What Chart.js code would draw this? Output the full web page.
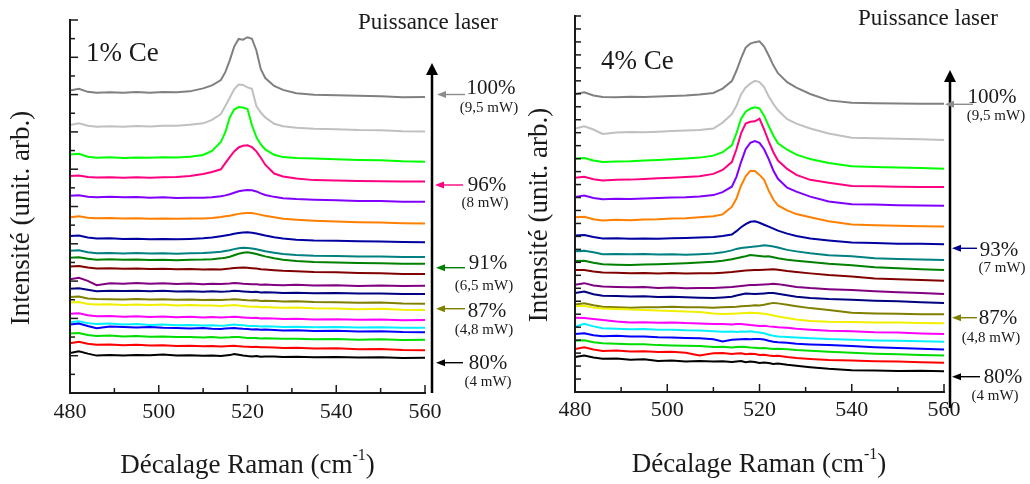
<!DOCTYPE html>
<html><head><meta charset="utf-8">
<script src="https://cdn.jsdelivr.net/npm/chart.js@4/dist/chart.umd.min.js"></script>
<style>
html,body{margin:0;padding:0;background:#fff;width:1030px;height:484px;overflow:hidden}
canvas{position:absolute;top:0}
#c1{left:0}#c2{left:515px}
</style></head><body>
<canvas id="c1" width="535" height="484"></canvas>
<canvas id="c2" width="515" height="484"></canvas>
<script>
// Raman shift grid (cm-1)
const ramanShift = [480,482,484,486,489,492,495,498,501,504,507,510,512,514,515,516,517,518,519,520,521,522,523,524,526,528,531,535,540,545,550,555,560];
const xTickValues = [480,500,520,540,560];
const seriesColors = ['#000000','#ff0000','#00dd00','#0000ff','#00f0ff','#ff00ff','#f0f000','#808000','#000080','#800080','#800000','#008000','#008080','#0000a0','#ff8000','#8000ff','#ff0080','#00ff00','#c0c0c0','#808080'];

// 1% Ce spectra (arbitrary units), bottom (80%) to top (100%)
const ce1_s01 = [40.5,42.5,40,38,38.5,38,38.7,38.3,39,38,38.3,37.8,38,37.5,38.2,38.5,39.5,38.8,38,37.5,37.2,37.5,36.8,37.2,37,36.5,36.8,36.2,36.5,36,36.3,35.5,35.7];
const ce1_s02 = [50.5,52,50,49,49.3,48.5,49,48.2,48.5,47.8,48,47.5,47.8,47.2,47.5,47.8,48,47.6,47.2,47,46.8,47,46.5,46.6,46.2,45.8,46,45.2,45.5,44.5,44.8,43.8,43.5];
const ce1_s03 = [60.5,61,59,58,58.3,57.5,57.8,57.2,57.5,56.8,57,56.5,56.8,56.2,56.5,56.7,57,56.8,56.4,56,55.8,56,55.5,55.6,55.3,55,55.2,54.6,54.8,54.2,54.5,53.8,54];
const ce1_s04 = [69.5,70.5,68,65.8,67.5,67,66.5,67,66.2,66,65.5,66,65.4,65,65.5,65.8,66,65.6,65.2,65,64.5,64.8,64.2,64.5,64,63.5,63.8,63,63.2,62.5,62.8,62,61.8];
const ce1_s05 = [72,73,71,70,70.5,69.5,70,69.2,69.5,68.8,69,68.5,68.8,68.4,68.6,69,69.5,69.2,68.8,68.3,68,68.2,67.6,67.8,67.5,67,67.3,66.8,67,66.5,66.8,66.2,66.3];
const ce1_s06 = [80.5,81,79,78,78.3,77.5,78,77.3,77.8,77,77.5,76.8,77.2,76.8,77,77.2,77.5,77.2,76.8,76.5,76.2,76.4,75.8,76,75.6,75.2,75.5,74.8,75,74.5,74.8,74,74.2];
const ce1_s07 = [92,92.5,90.5,90,90.3,89.5,90,89.5,89.8,89,89.3,88.8,89,88.5,88.8,89,89.3,89,88.5,88,87.6,87.8,87.2,87.4,87,86.5,86.8,86,85.8,85.2,85.5,84.5,84.3];
const ce1_s08 = [97.5,98,96,95.5,95.3,95,95.5,95,95.2,94.8,95,94.6,94.8,94.5,94.8,95,95.3,95,94.6,94.2,94,94.2,93.6,93.8,93.4,93,93.2,92.5,92.3,91.8,92,91,90.8];
const ce1_s09 = [106,106.5,105,103.5,104,103.6,104,103.5,103.8,103.2,103.5,103,103.3,103,103.2,103.5,104,103.6,103.2,102.8,102.5,102.8,102.2,102.4,102,101.6,101.9,101.3,101.5,101,101.2,100.6,100.7];
const ce1_s10 = [115.5,117,114,109.5,111.5,111,111.8,111,111.5,110.8,111.2,110.6,111,110.7,111,111.3,111.8,111.5,111,110.7,110.4,110.6,110,110.2,109.8,109.5,110,109.3,109.5,108.8,109.2,108.6,109];
const ce1_s11 = [128.5,129,127.5,126.5,126.8,126.3,126.6,126,126.3,125.8,126,125.6,125.8,125.6,126,126.4,127,127.3,127.5,127.2,126.8,126.4,125.8,125.4,124.8,124.2,123.8,123,122.6,122,121.6,121,120.8];
const ce1_s12 = [137.5,138,136.5,135.5,135.8,135.3,135.6,135.2,135.4,135,135.5,135.6,136,136.8,137.5,138.5,140,141.5,142.5,143,142.3,141.2,140,138.8,137,135.5,134.2,133.2,132.6,132,131.8,131.3,131.3];
const ce1_s13 = [144.5,145,143,142,142.3,141.8,142.2,141.8,142,141.6,142,142.3,142.8,143.5,144.2,145,146.2,147,147.5,147.3,146.8,146,145,144,142.5,141.2,140.3,139.5,139.2,138.8,138.6,138.3,138.3];
const ce1_s14 = [159.5,160,158,157,157.2,156.5,156.8,156.3,156.5,156.2,156.6,157.2,158,159.3,160,160.8,161.8,162.5,163,163.3,162.8,162,161,160,158.3,157,155.8,155,154.6,154.2,154,153.5,153.3];
const ce1_s15 = [178.5,179.5,178,177.5,177.8,177.3,177.6,177,177.3,177,177.3,177.2,177.8,178.8,179.5,180.2,181.2,182,182.6,183,182.8,182,181,180,178.5,177,176,175,174.2,173.5,173.2,172.6,172.3];
const ce1_s16 = [200.5,201,199.5,198.8,199.3,198.8,199.2,198.5,198.8,198.2,198.5,198.3,199,200,200.8,202,203.5,205,205.8,206.3,206,204.8,202.8,201.2,199.3,198,197,196.3,195.8,195.2,195,194.4,194.2];
const ce1_s17 = [220.5,221,219.5,219,219.3,218.8,219.2,218.8,219.3,219.5,220.5,222.5,224.5,227.3,233.5,239.7,245.5,249.5,251.2,251.7,249.8,245.5,239,232,223,220,218,216.3,215.8,215.5,215.2,215,215];
const ce1_s18 = [242.3,243,240,239,239.5,238.8,239.2,239,239.5,239.2,240,241.8,246,255,265,280,288,290.5,290,288.5,272,260,252.5,247.5,242,239.7,238.8,238.3,237.5,236.8,236.5,235.5,235];
const ce1_s19 = [272.3,274,271.5,270.5,271,270.5,271.2,270.8,271.5,271.5,272.5,274,277.5,283.5,291.5,300,308.5,313.5,313,310.5,309,291.5,285,280,273.5,271,269.5,268.5,268,267.2,267,266,265.7];
const ce1_s20 = [307.3,309,306,305,305.5,305,305.8,305.2,305.8,305.5,306.5,309.5,312.5,318,326,338,352,359.8,359,361.5,360,348,329,320,312,308,304.5,303,302.5,302,301.5,300.5,300.7];

// 4% Ce spectra (arbitrary units), bottom (80%) to top (100%)
const ce4_s01 = [35.5,37,35,33.8,34,32.8,33.2,31.5,32,31,31.5,30.8,31.2,30.5,31,31.5,30.2,31,30.5,29.5,30,29.3,28.5,28.8,27.5,26.5,25.2,23.5,22,21.8,21.2,21.5,21];
const ce4_s02 = [43.5,45.3,43,41.5,42,41,41.3,40.5,40.8,39.8,37,39.3,39.5,38.5,39,39.3,38.2,38.8,38.5,37.5,37.8,37,36.5,36.8,35.5,34.5,33.5,32.5,31.8,31.2,30.8,30.2,29.7];
const ce4_s03 = [52,52.5,50.5,49.5,49,48.3,48.5,47.5,47.2,46.8,46.5,45.5,45.8,45.2,45.5,45.8,45.5,45,44.8,44.3,44.5,44,43.5,43.8,43.2,42.5,41.8,40.8,39.8,38.8,38.3,37.5,37];
const ce4_s04 = [58.7,59.5,57.5,56.5,57,56.2,56.3,55.5,55.3,54.8,54.5,53.5,51.2,53,53.2,53.5,53.8,53.5,53.8,53.7,53.2,52,51,50.3,49.8,49,48.2,47.5,46.5,45.3,44.5,43.8,43];
const ce4_s05 = [66,69,66.5,64.5,64,63.5,63.8,63,63.2,62.5,62.2,61.5,61,61.2,60.8,61.3,61,61.5,60.8,60.3,59.5,58,57,56.3,55.8,55.2,54.5,53.6,53,52.3,52,51.3,51];
const ce4_s06 = [75.3,75,74,73,71.5,70.5,70.8,70.2,70.5,69.8,69.5,68.8,69,68.5,68.8,69,68.5,67.8,67.5,67,67.2,66.5,66,65.5,65,64,63.2,62,61.5,60.5,60.2,59.3,58.7];
const ce4_s07 = [87,87.5,85.5,84.5,84.2,83.5,83.2,82.5,82.2,81.5,81,79.5,79,79.3,79.5,79.8,80,80.2,80,79.7,79.2,78.5,77.5,76.5,75,73.5,72,71.3,71,70.5,70.3,70,69.7];
const ce4_s08 = [88.7,90,88,86.5,86,85.3,85.8,86,86.5,86,85.8,85.3,85.8,86.2,86.5,87,87.2,87.5,87.8,87.7,88.5,89.5,90.3,89.8,88.5,87,85,83,80.3,79.5,79.2,78.8,78.7];
const ce4_s09 = [100.3,101.7,99,97.5,97.2,96.8,97,96.3,96.5,96,95.5,95.3,95.8,96.5,97.8,98.8,99.7,99.5,99.3,99.5,99.8,100.2,100.3,99.5,98,96.5,95.3,94.2,93.5,92.5,92,91,90.3];
const ce4_s10 = [108.7,110.3,108,107,106.5,106.2,106.5,105.3,105.8,105.2,105.5,105.3,105.8,106.5,107,107.5,108,108.3,108.5,108.7,109,109.3,109.7,109.3,108,106.5,105.3,104.2,103.3,102,101.2,100.3,99.3];
const ce4_s11 = [123.7,123.5,122,121,120.8,120.3,120.6,120.2,120.5,120,120.3,120.3,120.8,121.5,122,122.5,123,123.3,123.5,123.7,124,124.2,124.3,123.8,122.5,121.5,120.2,118.5,117,115,114.3,113.5,112.7];
const ce4_s12 = [132.7,133,131,129.5,129,128.7,129.2,129.5,130,130.5,131.2,132,133,134.5,135.5,136.5,137.5,138.7,138.3,137.8,137.2,137.5,136.5,135.5,134,133,131.8,130,128.5,126.3,125.5,124.5,123.7];
const ce4_s13 = [142.7,143,141.5,139.5,139.8,139.5,139.8,139.3,139.5,139.2,139.6,140.3,141.5,143.5,145,146,146.5,147,147.5,148,148.7,148.2,147.5,146.5,144,142.5,140.5,138.5,137.5,135.5,134.8,134.2,133.7];
const ce4_s14 = [158.7,159,157,155.5,155.8,155.2,155.5,155.3,155.8,156,156.5,157,158,159.5,163,167,170,172.5,173,171.5,169.5,167.5,165.5,163.5,160.5,158,155.5,153.5,151.5,151,150.3,150.2,149.7];
const ce4_s15 = [177,177.5,175,173.7,174.5,174,174.8,175,175.8,176,177,178,180,187.5,196,209,218.5,224,224,220,215,204,195,189,184,180.3,177,173,169.7,169,168.5,168,167.7];
const ce4_s16 = [197.7,199,196.5,195.3,195.8,195.5,196,196.5,197,197.3,198,199.5,202.5,208,218,233,246,252.5,254.3,252.5,246,236,224.5,216,207,203,198,193,190.3,190,189.3,189,188.7];
const ce4_s17 = [217,218,215.5,214.3,215,215.2,215.8,216.5,217,217.8,218.7,221,225,233,246,262,272,273.8,274.3,277,266,254,243,234.5,226,220,215,212,208.7,208.5,208,207.8,207.7];
const ce4_s18 = [236.3,237,234.5,233,233.5,233.8,234.5,235,235.8,236.5,237.5,239.5,243,250,262,277,284,287,288.5,287.5,280,269.5,260,252,245.5,240.5,236,232,228.7,228,227.5,227,226.3];
const ce4_s19 = [267,269.3,266,261.5,263,263.5,263.2,263.8,264.5,265,265.5,267,273,281.5,290,301.5,308.7,312.5,315.3,314,309,299.5,292,285.5,276.5,272,267,262,257.7,257,256.5,256,255.3];
const ce4_s20 = [302,303.7,300.5,299,298.7,299.2,298.8,299.5,300,300.5,301.5,303,307.5,315,325.5,338,349,353,354.5,355.3,350,341,331,323,314,308.5,302,295.5,293,292.5,292.3,292,292];

// Power labels
const ce1Pct = ['100%','96%','91%','87%','80%'];
const ce1Mw = ['(9,5 mW)','(8 mW)','(6,5 mW)','(4,8 mW)','(4 mW)'];
const ce1ArrowColors = ['#8c8c8c','#ff0080','#008000','#808000','#000000'];
const ce4Pct = ['100%','93%','87%','80%'];
const ce4Mw = ['(9,5 mW)','(7 mW)','(4,8 mW)','(4 mW)'];
const ce4ArrowColors = ['#8c8c8c','#000090','#808000','#000000'];

const ce1Series = [ce1_s01,ce1_s02,ce1_s03,ce1_s04,ce1_s05,ce1_s06,ce1_s07,ce1_s08,ce1_s09,ce1_s10,ce1_s11,ce1_s12,ce1_s13,ce1_s14,ce1_s15,ce1_s16,ce1_s17,ce1_s18,ce1_s19,ce1_s20];
const ce4Series = [ce4_s01,ce4_s02,ce4_s03,ce4_s04,ce4_s05,ce4_s06,ce4_s07,ce4_s08,ce4_s09,ce4_s10,ce4_s11,ce4_s12,ce4_s13,ce4_s14,ce4_s15,ce4_s16,ce4_s17,ce4_s18,ce4_s19,ce4_s20];

const SERIF = '"Liberation Serif", "DejaVu Serif", serif';
const INK = '#1a1a1a';

// layout (page coordinates)
const layoutCe1 = {
  offset: 0, pad: {left:70, right:110, top:20, bottom:52.6}, tickPad: 6, yMax: 379, yIntervals: 20, yMajorEvery: 2,
  sample: {text:'1% Ce', x:86, y:54}, header: {x:428, y:23},
  vArrow: {x:432, top:63, bottom:393},
  pctPos: [[491,88],[487,185],[488,263],[487,311],[488,363]],
  mwPos: [[489,108],[485,203],[484,286],[484,330],[488,382]],
  arrows: [[437,465,94.5],[435,463,185],[436,465,267.7],[436,465,308.7],[436,463,362.7]],
  yTitle: {x:22, y:218}, xTitle: {x:247.5, y:473}
};
const layoutCe4 = {
  offset: 515, pad: {left:60, right:86, top:16, bottom:55.6}, tickPad: 5, yMax: 381, yIntervals: 29, yMajorEvery: 0,
  sample: {text:'4% Ce', x:601, y:62}, header: {x:928, y:19},
  vArrow: {x:950, top:70, bottom:408},
  pctPos: [[992,97],[999,250],[998,318],[1003,377]],
  mwPos: [[996,116],[1002,268],[991,338],[995,396]],
  arrows: [[945,973,104.3],[952,977,248.3],[952,977,317.7],[952,980,376.7]],
  yTitle: {x:540, y:215}, xTitle: {x:759, y:472}
};

function annoPlugin(L, pct, mw, colors) {
  return {
    id: 'anno',
    afterDraw(chart) {
      const ctx = chart.ctx, ca = chart.chartArea;
      const xs = chart.scales.x, ys = chart.scales.y;
      const o = L.offset;
      ctx.save();
      // axes lines
      ctx.strokeStyle = INK; ctx.lineWidth = 2; ctx.lineCap = 'square';
      ctx.beginPath();
      ctx.moveTo(ca.left, ca.top); ctx.lineTo(ca.left, ca.bottom); ctx.lineTo(ca.right, ca.bottom);
      ctx.stroke();
      ctx.lineCap = 'butt'; ctx.lineWidth = 1.5;
      // x ticks (inward)
      for (let v = 480; v <= 560; v += 10) {
        const px = xs.getPixelForValue(v);
        const len = (v % 20 === 0) ? 8 : 5;
        ctx.beginPath(); ctx.moveTo(px, ca.bottom); ctx.lineTo(px, ca.bottom - len); ctx.stroke();
      }
      // y ticks (inward)
      for (let i = 0; i <= L.yIntervals; i++) {
        const py = ys.getPixelForValue(L.yMax * i / L.yIntervals);
        const len = L.yMajorEvery ? ((L.yIntervals - i) % L.yMajorEvery === 0 ? 8 : 5) : 6;
        ctx.beginPath(); ctx.moveTo(ca.left, py); ctx.lineTo(ca.left + len, py); ctx.stroke();
      }
      // vertical power arrow
      const va = L.vArrow;
      ctx.strokeStyle = '#000'; ctx.fillStyle = '#000'; ctx.lineWidth = 2.5;
      ctx.beginPath(); ctx.moveTo(va.x - o, va.bottom); ctx.lineTo(va.x - o, va.top + 10); ctx.stroke();
      ctx.beginPath(); ctx.moveTo(va.x - o, va.top); ctx.lineTo(va.x - o - 6, va.top + 12); ctx.lineTo(va.x - o + 6, va.top + 12); ctx.closePath(); ctx.fill();
      // small arrows
      L.arrows.forEach((a, i) => {
        const [tip, tail, y] = a;
        ctx.strokeStyle = colors[i]; ctx.fillStyle = colors[i]; ctx.lineWidth = 1.4;
        ctx.beginPath(); ctx.moveTo(tail - o, y); ctx.lineTo(tip - o + 6, y); ctx.stroke();
        ctx.beginPath(); ctx.moveTo(tip - o, y); ctx.lineTo(tip - o + 9, y - 3.5); ctx.lineTo(tip - o + 9, y + 3.5); ctx.closePath(); ctx.fill();
      });
      // texts
      ctx.fillStyle = INK; ctx.textBaseline = 'middle';
      ctx.textAlign = 'center';
      ctx.font = '23px ' + SERIF;
      ctx.fillText('Puissance laser', L.header.x - o, L.header.y);
      pct.forEach((t, i) => { ctx.font = '21px ' + SERIF; ctx.fillText(t, L.pctPos[i][0] - o, L.pctPos[i][1]); });
      mw.forEach((t, i) => { ctx.font = '15px ' + SERIF; ctx.fillText(t, L.mwPos[i][0] - o, L.mwPos[i][1]); });
      ctx.textAlign = 'left'; ctx.font = '27px ' + SERIF;
      ctx.fillText(L.sample.text, L.sample.x - o, L.sample.y);
      // y title
      ctx.save();
      ctx.translate(L.yTitle.x - o, L.yTitle.y); ctx.rotate(-Math.PI / 2);
      ctx.textAlign = 'center'; ctx.font = '27px ' + SERIF;
      ctx.fillText('Intensité (unit. arb.)', 0, 0);
      ctx.restore();
      // x title with superscript
      ctx.textBaseline = 'alphabetic'; ctx.textAlign = 'left';
      const big = '27px ' + SERIF, small = '16px ' + SERIF;
      const t1 = 'Décalage Raman (cm', t2 = '-1', t3 = ')';
      ctx.font = big; const w1 = ctx.measureText(t1).width, w3 = ctx.measureText(t3).width;
      ctx.font = small; const w2 = ctx.measureText(t2).width;
      let x0 = L.xTitle.x - o - (w1 + w2 + w3) / 2;
      ctx.font = big; ctx.fillText(t1, x0, L.xTitle.y);
      ctx.font = small; ctx.fillText(t2, x0 + w1, L.xTitle.y - 13);
      ctx.font = big; ctx.fillText(t3, x0 + w1 + w2, L.xTitle.y);
      ctx.restore();
    }
  };
}

function makeChart(id, series, L, pct, mw, colors) {
  return new Chart(document.getElementById(id), {
    type: 'line',
    data: {
      datasets: series.map((s, i) => ({
        data: ramanShift.map((x, j) => ({x: x, y: s[j]})),
        borderColor: seriesColors[i], borderWidth: 2, pointRadius: 0, fill: false, tension: 0
      }))
    },
    options: {
      responsive: false, animation: false, devicePixelRatio: 1, events: [],
      layout: {padding: L.pad},
      plugins: {legend: {display: false}, tooltip: {enabled: false}},
      scales: {
        x: {type: 'linear', min: 480, max: 560,
            afterBuildTicks: (ax) => { ax.ticks = xTickValues.map(v => ({value: v})); },
            ticks: {font: {family: SERIF, size: 22}, color: INK, padding: L.tickPad, maxRotation: 0},
            grid: {display: false, drawTicks: false, tickLength: 0}, border: {display: false}},
        y: {display: false, min: 0, max: L.yMax}
      }
    },
    plugins: [annoPlugin(L, pct, mw, colors)]
  });
}

makeChart('c1', ce1Series, layoutCe1, ce1Pct, ce1Mw, ce1ArrowColors);
makeChart('c2', ce4Series, layoutCe4, ce4Pct, ce4Mw, ce4ArrowColors);
</script>
</body></html>
